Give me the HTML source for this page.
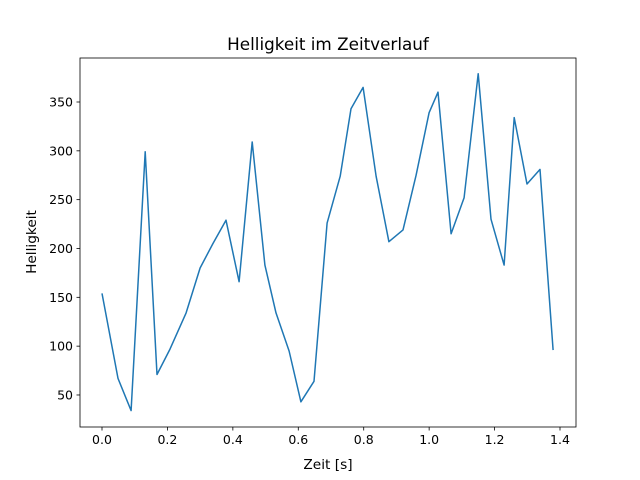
<!DOCTYPE html>
<html><head><meta charset="utf-8"><style>
body{margin:0;background:#fff}
svg{display:block;font-family:"DejaVu Sans","Liberation Sans",sans-serif}
</style></head><body>
<svg id="chart" width="640" height="480">
<rect width="640" height="480" fill="#fff"/>
<text x="328" y="50" text-anchor="middle" font-size="16.8">Helligkeit im Zeitverlauf</text>
<g id="plot"></g>
<rect x="80" y="58" width="496" height="369" fill="none" stroke="#000" stroke-width="0.8"/>
<text x="328" y="469" text-anchor="middle" font-size="13.7">Zeit [s]</text>
<text x="36" y="242" text-anchor="middle" font-size="13.7" transform="rotate(-90 36 242)">Helligkeit</text>
</svg>
<script>
const times=[0,0.049,0.089,0.132,0.168,0.208,0.257,0.300,0.339,0.379,0.419,0.459,0.498,0.532,0.572,0.608,0.648,0.688,0.728,0.761,0.798,0.838,0.877,0.920,0.960,1.000,1.027,1.067,1.107,1.150,1.189,1.229,1.260,1.299,1.339,1.379];
const brightness=[154,67,34,299,71,97,134,180,205,229,166,309,183,134,95,43,64,226,274,343,365,274,207,219,275,339,360,215,252,379,230,183,334,266,281,96];
const xTicks=[0,0.2,0.4,0.6,0.8,1.0,1.2,1.4];
const xTickLabels=["0.0","0.2","0.4","0.6","0.8","1.0","1.2","1.4"];
const yTicks=[50,100,150,200,250,300,350];
const ns="http://www.w3.org/2000/svg";
const g=document.getElementById('plot');
function sx(v){return 102+v*(458/1.4);}
function sy(v){return 102+(350-v)*(48.83/50);}
function mk(t,a){const e=document.createElementNS(ns,t);for(const k in a)e.setAttribute(k,a[k]);g.appendChild(e);return e;}
xTicks.forEach((t,i)=>{
 const l=mk('line',{x1:sx(t),x2:sx(t),y1:427,y2:430.5,stroke:'#000','stroke-width':0.8});
 
 
 const tx=mk('text',{x:sx(t),y:444,'text-anchor':'middle','font-size':12.5});
 tx.textContent=xTickLabels[i];
 
 
});
yTicks.forEach(t=>{
 const l=mk('line',{x1:76.5,x2:80,y1:sy(t),y2:sy(t),stroke:'#000','stroke-width':0.8});
 
 
 const tx=mk('text',{x:73,y:sy(t)+4.5,'text-anchor':'end','font-size':12.5});
 tx.textContent=String(t);
 
 
});
const pts=times.map((t,i)=>sx(t).toFixed(1)+','+sy(brightness[i]).toFixed(1)).join(' ');
const pl=mk('polyline',{points:pts,fill:'none',stroke:'#1f77b4','stroke-width':1.5,'stroke-linejoin':'round'});


</script>
</body></html>
